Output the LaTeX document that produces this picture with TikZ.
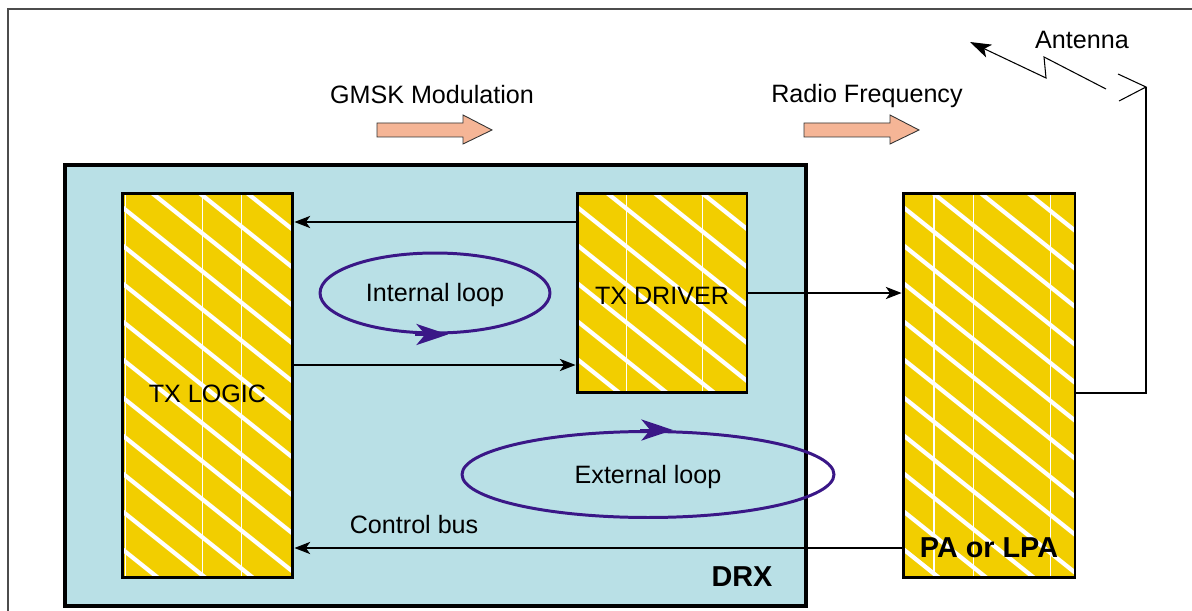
\documentclass[tikz,border=0pt]{standalone}
\usepackage{fontspec}
\setmainfont{Liberation Sans}
\usetikzlibrary{arrows.meta,shapes.geometric}

\definecolor{drxblue}{HTML}{B9E0E6}
\definecolor{hatchyellow}{HTML}{F2CE00}
\definecolor{loopviolet}{HTML}{3A1787}
\definecolor{arrowsalmon}{HTML}{F5B596}

\tikzset{
  hatched/.style={draw, line width=1.7pt, fill=hatchyellow, inner sep=0pt,
    font=\fontsize{14.3}{17}\selectfont,
    path picture={
      \foreach \k in {-5,...,11}
        \draw[white, line width=2.4pt]
          ([yshift={-(\k*0.76cm+0.28cm)}]path picture bounding box.north west) -- ++(400,320);
      \foreach \f in {#1}
        \draw[white, line width=0.6pt]
          ([xshift={\f*\pgfkeysvalueof{/pgf/minimum width}}]path picture bounding box.north west) -- ++(0,1000);
    }},
  sig/.style={line width=0.6pt, -{Stealth[length=9pt,width=7pt,inset=2.5pt]}},
  loopring/.style={ellipse, draw=loopviolet, line width=1.7pt, inner sep=0pt,
    font=\fontsize{14.3}{17}\selectfont, text height=13pt},
  looptip/.style={draw=loopviolet, line width=1.7pt,
    -{Stealth[length=18pt,width=12pt,inset=5pt,fill=loopviolet]}},
  label text/.style={font=\fontsize{14.3}{17}\selectfont, inner sep=0pt},
  blockarrow/.style={fill=arrowsalmon, draw=black!80, line width=0.5pt},
}

\begin{document}
\begin{tikzpicture}[x=0.02cm, y=-0.02cm]
  \useasboundingbox (0,0) rectangle (1192,611);
  % page frame
  \draw[black!70, line width=1.2pt] (8,611) -- (8,9) -- (1192,9);

  % DRX unit and its blocks
  \node[draw, line width=2pt, fill=drxblue, minimum width=14.82cm, minimum height=8.82cm] (drx) at (435.5,385.5) {};
  \node[hatched={0.02,0.47,0.70}, minimum width=3.42cm, minimum height=7.7cm, text height=19pt] (logic) at (207.5,385.5) {TX LOGIC};
  \node[hatched={0.29,0.74}, minimum width=3.4cm, minimum height=4cm, text height=13pt] (driver) at (662,293) {TX DRIVER};
  \node[hatched={0.18,0.41,0.86}, minimum width=3.44cm, minimum height=7.7cm] (pa) at (989,385.5) {};
  \node[label text, font=\fontsize{16.4}{19}\selectfont\bfseries] (palabel) at (989,548) {PA or LPA};
  \node[label text, font=\fontsize{16.4}{19}\selectfont\bfseries] (drxlabel) at (742,577) {DRX};

  % loops
  \node[loopring, minimum width=4.6cm, minimum height=1.6cm] (intloop) at (435,293) {Internal loop};
  \draw[looptip] ([xshift=-0.4cm]intloop.south) -- ([xshift=0.26cm]intloop.south);
  \node[loopring, minimum width=7.44cm, minimum height=1.72cm] (extloop) at (648,474.5) {External loop};
  \draw[looptip] ([xshift=-0.16cm]extloop.north) -- ([xshift=0.5cm]extloop.north);

  % signal paths
  \draw[sig] (driver.west |- 0,222) -- (logic.east |- 0,222);
  \draw[sig] (logic.east |- 0,365) -- (driver.west |- 0,365);
  \draw[sig] (driver.east) -- (pa.west |- driver.east);
  \draw[sig] (pa.west |- 0,548) -- node[label text, pos=0.803, above=8pt] (busname) {Control bus} (logic.east |- 0,548);

  % antenna
  \coordinate (feed) at (1146,87);
  \draw[line width=0.6pt] (pa.east |- 0,393) -| (feed);
  \draw[line width=0.6pt] (1118,74) -- (feed) -- (1119,101);
  \draw[line width=0.6pt, -{Stealth[length=12pt,width=8pt,inset=3pt]}] (1106,89) -- (1044,57) -- (1046,78) -- (970,42);
  \node[label text] (antname) at (1082,40) {Antenna};

  % GMSK and RF direction arrows
  \node[label text] (gmsk) at (432,95) {GMSK Modulation};
  \draw[blockarrow] (377,123) -- (463,123) -- (463,115) -- (492,130) -- (463,144) -- (463,137) -- (377,137) -- cycle;
  \node[label text] (rf) at (867,96) {Radio Frequency};
  \draw[blockarrow] (804,123) -- (890,123) -- (890,115) -- (919,130) -- (890,144) -- (890,137) -- (804,137) -- cycle;
\end{tikzpicture}
\end{document}
